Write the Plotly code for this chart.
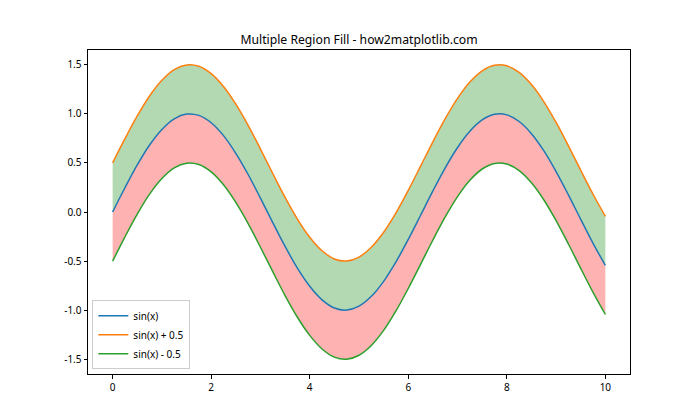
import plotly.graph_objects as go

x = [0.0, 0.25, 0.5, 0.75, 1.0, 1.25, 1.5, 1.75, 2.0, 2.25, 2.5, 2.75, 3.0, 3.25, 3.5, 3.75,
     4.0, 4.25, 4.5, 4.75, 5.0, 5.25, 5.5, 5.75, 6.0, 6.25, 6.5, 6.75, 7.0, 7.25, 7.5, 7.75,
     8.0, 8.25, 8.5, 8.75, 9.0, 9.25, 9.5, 9.75, 10.0]
y_sin = [0.000, 0.247, 0.479, 0.682, 0.841, 0.949, 0.997, 0.984, 0.909, 0.778, 0.598, 0.382,
         0.141, -0.108, -0.351, -0.572, -0.757, -0.895, -0.978, -0.999, -0.959, -0.859, -0.706,
         -0.508, -0.279, -0.033, 0.215, 0.450, 0.657, 0.823, 0.938, 0.995, 0.989, 0.922, 0.798,
         0.625, 0.412, 0.174, -0.075, -0.319, -0.544]
y_upper = [0.500, 0.747, 0.979, 1.182, 1.341, 1.449, 1.497, 1.484, 1.409, 1.278, 1.098, 0.882,
           0.641, 0.392, 0.149, -0.072, -0.257, -0.395, -0.478, -0.499, -0.459, -0.359, -0.206,
           -0.008, 0.221, 0.467, 0.715, 0.950, 1.157, 1.323, 1.438, 1.495, 1.489, 1.422, 1.298,
           1.125, 0.912, 0.674, 0.425, 0.181, -0.044]
y_lower = [-0.500, -0.253, -0.021, 0.182, 0.341, 0.449, 0.497, 0.484, 0.409, 0.278, 0.098, -0.118,
           -0.359, -0.608, -0.851, -1.072, -1.257, -1.395, -1.478, -1.499, -1.459, -1.359, -1.206,
           -1.008, -0.779, -0.533, -0.285, -0.050, 0.157, 0.323, 0.438, 0.495, 0.489, 0.422, 0.298,
           0.125, -0.088, -0.326, -0.575, -0.819, -1.044]
labels = ["sin(x)", "sin(x) + 0.5", "sin(x) - 0.5"]
colors = ["#1f77b4", "#ff7f0e", "#2ca02c"]
x_ticks = [0, 2, 4, 6, 8, 10]
y_ticks = [-1.5, -1.0, -0.5, 0.0, 0.5, 1.0, 1.5]
y_tick_text = ["-1.5", "-1.0", "-0.5", "0.0", "0.5", "1.0", "1.5"]

FONT = "Noto Sans"
fig = go.Figure()
# fills
fig.add_trace(go.Scatter(x=x, y=y_lower, mode="lines", line=dict(width=0, shape="spline"),
                         showlegend=False, hoverinfo="skip"))
fig.add_trace(go.Scatter(x=x, y=y_sin, mode="lines", line=dict(width=0, shape="spline"),
                         fill="tonexty", fillcolor="rgba(255,0,0,0.3)", showlegend=False, hoverinfo="skip"))
fig.add_trace(go.Scatter(x=x, y=y_upper, mode="lines", line=dict(width=0, shape="spline"),
                         fill="tonexty", fillcolor="rgba(0,128,0,0.3)", showlegend=False, hoverinfo="skip"))
# lines
for ys, lab, c in zip([y_sin, y_upper, y_lower], labels, colors):
    fig.add_trace(go.Scatter(x=x, y=ys, mode="lines", name=lab,
                             line=dict(color=c, width=1.5, shape="spline")))

axis_common = dict(showgrid=False, zeroline=False, showline=True, linecolor="black", linewidth=1,
                   mirror=True, ticks="outside", ticklen=3.5, tickwidth=1, tickcolor="black",
                   tickfont=dict(family=FONT, size=10, color="black"))
fig.update_xaxes(range=[-0.5, 10.5], tickvals=x_ticks, **axis_common)
fig.update_yaxes(range=[-1.65, 1.65], tickvals=y_ticks, ticktext=y_tick_text, **axis_common)

fig.update_layout(
    width=700, height=420,
    margin=dict(l=88, r=70, t=50, b=46),
    paper_bgcolor="white", plot_bgcolor="white",
    title=dict(text="Multiple Region Fill - how2matplotlib.com", x=0.5, xref="paper",
               y=1 - 40 / 420, yref="container", xanchor="center", yanchor="middle",
               font=dict(family=FONT, size=12.2, color="black")),
    legend=dict(x=0.008, y=0.015, xanchor="left", yanchor="bottom", bgcolor="rgba(255,255,255,0.8)",
                bordercolor="#cccccc", borderwidth=1, font=dict(family=FONT, size=10, color="black"),
                traceorder="normal", tracegroupgap=0, itemwidth=30),
    showlegend=True,
)

fig.write_html("out.html")
